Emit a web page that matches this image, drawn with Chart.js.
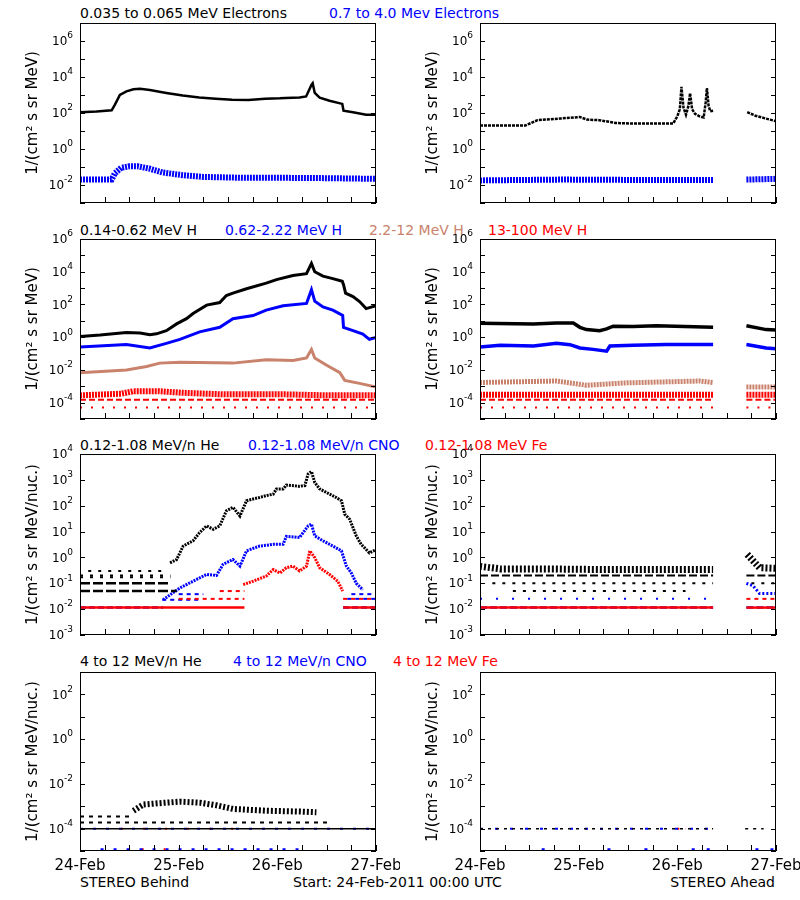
<!DOCTYPE html>
<html>
<head>
<meta charset="utf-8">
<script src="https://cdn.jsdelivr.net/npm/chart.js@4"></script>
<style>
  body { margin: 0; background: #fff; width: 800px; height: 900px; position: relative; overflow: hidden; font-family: "DejaVu Sans", sans-serif; }
  canvas { position: absolute; }
  .t { position: absolute; font-size: 14px; line-height: 14px; white-space: nowrap; }
</style>
</head>
<body>

<!-- panel titles -->
<div class="t" style="left:80px;top:6px;color:#000">0.035 to 0.065 MeV Electrons</div>
<div class="t" style="left:329px;top:6px;color:#0000ff">0.7 to 4.0 Mev Electrons</div>

<div class="t" style="left:80px;top:223px;color:#000">0.14-0.62 MeV H</div>
<div class="t" style="left:225px;top:223px;color:#0000ff">0.62-2.22 MeV H</div>
<div class="t" style="left:369px;top:223px;color:#c9826b">2.2-12 MeV H</div>
<div class="t" style="left:488px;top:223px;color:#ff0000">13-100 MeV H</div>

<div class="t" style="left:80px;top:438px;color:#000">0.12-1.08 MeV/n He</div>
<div class="t" style="left:248px;top:438px;color:#0000ff">0.12-1.08 MeV/n CNO</div>
<div class="t" style="left:425px;top:438px;color:#ff0000">0.12-1.08 MeV Fe</div>

<div class="t" style="left:80px;top:654px;color:#000">4 to 12 MeV/n He</div>
<div class="t" style="left:233px;top:654px;color:#0000ff">4 to 12 MeV/n CNO</div>
<div class="t" style="left:393px;top:654px;color:#ff0000">4 to 12 MeV Fe</div>

<!-- footer -->
<div class="t" style="left:80px;top:875px">STEREO Behind</div>
<div class="t" style="left:293px;top:875px">Start: 24-Feb-2011 00:00 UTC</div>
<div class="t" style="right:25px;top:875px">STEREO Ahead</div>

<script>
// ---- data (hours since 24-Feb-2011 00:00 UTC, fluxes) ----

// electrons
const eLoBehindHours = [0, 4, 7.7, 8.5, 9.7, 11.3, 13, 14.6, 17, 21, 25, 29, 33, 37, 41, 45, 48.6, 50, 53.4, 55, 56.3, 56.6, 57.1, 58.3, 60.7, 63.8, 64.1, 66.4, 69.6, 72];
const eLoBehind = [110, 120, 140, 290, 1000, 1600, 2100, 2200, 1900, 1300, 930, 720, 620, 540, 520, 620, 650, 690, 720, 830, 3600, 4500, 1300, 720, 480, 320, 135, 110, 80, 80];
const eHiBehindHours = [0, 7.7, 8.5, 10, 12, 14, 17, 20, 25, 30, 40, 50, 60, 72];
const eHiBehind = [0.02, 0.02, 0.045, 0.09, 0.11, 0.11, 0.08, 0.05, 0.035, 0.028, 0.025, 0.025, 0.024, 0.022];

const eLoAheadHours = [0, 11, 14, 19.4, 24.3, 26, 29, 33, 37, 47, 48, 48.6, 49, 49.5, 50.1, 50.7, 51.1, 51.6, 52.3, 53.5, 54.4, 54.9, 55.2, 55.6, 56, 56.7, 60, 65, 67, 72];
const eLoAhead = [20, 20, 40, 49, 60, 43, 40, 28, 26, 26, 66, 160, 2800, 200, 80, 250, 1260, 160, 90, 63, 56, 400, 2450, 250, 126, 135, null, 112, 70, 35];
const eHiAheadHours = [0, 20, 40, 56.7, 60, 64.8, 72];
const eHiAhead = [0.018, 0.02, 0.019, 0.019, null, 0.02, 0.022];

// protons
const hLoBehindHours = [0, 4.9, 11.3, 14.6, 17, 18.6, 21, 23.5, 25.9, 27.5, 30.8, 34, 35.6, 37.2, 40.5, 45.3, 47.8, 51.8, 55.1, 56.3, 57.1, 59.1, 61.5, 63.8, 64.1, 64.6, 66.4, 68, 69.6, 72];
const hLoBehind = [1.1, 1.35, 1.95, 1.8, 1.4, 1.6, 2.5, 6.5, 13.5, 28, 91, 130, 350, 490, 910, 2000, 3300, 5900, 7600, 32000, 10000, 5400, 3800, 2600, 1600, 490, 300, 150, 56, 83];
const hMidBehindHours = [0, 11.3, 17, 21, 24.3, 29.1, 34, 37.2, 42.1, 45.3, 49.4, 55.1, 56.3, 57.1, 59.1, 61.5, 63.9, 64.1, 66.4, 68.8, 70.4, 72];
const hMidBehind = [0.25, 0.36, 0.22, 0.42, 0.74, 2.1, 4, 13.5, 21, 45, 83, 115, 800, 160, 71, 45, 21, 4, 2.5, 1.55, 0.74, 0.95];
const hHiBehindHours = [0, 11.3, 16.2, 19.4, 24.3, 37.2, 45.3, 51.8, 55.1, 56.3, 57.1, 59.9, 63.2, 64.4, 68, 72];
const hHiBehind = [0.0068, 0.01, 0.016, 0.026, 0.029, 0.026, 0.042, 0.038, 0.054, 0.18, 0.054, 0.02, 0.0068, 0.0023, 0.0015, 0.0009];
const hTopBehindHours = [0, 10, 13, 19, 25, 35, 50, 60, 72];
const hTopBehind = [2.8e-4, 3.5e-4, 5e-4, 5e-4, 4e-4, 3.2e-4, 3.2e-4, 2.8e-4, 2.8e-4];
const hTopFloorsBehind = [[1.5e-4, 0, 72]];
const hTopSparseBehind = [[5e-5, 0, 72]];

const hLoAheadHours = [0, 13, 18.6, 22.7, 24.3, 25.9, 29.1, 30.8, 32.4, 37.2, 42.9, 56.7, 60, 64.8, 69.6, 72];
const hLoAhead = [7.1, 6.3, 7.4, 7.4, 4, 2.9, 2.5, 3.2, 4.7, 4.5, 5, 4, null, 5, 2.9, 2.75];
const hMidAheadHours = [0, 4.9, 13, 18.6, 21.9, 24.3, 27.5, 30.8, 31.6, 37.2, 45.3, 56.7, 60, 64.8, 69.6, 72];
const hMidAhead = [0.25, 0.32, 0.29, 0.42, 0.35, 0.22, 0.18, 0.14, 0.29, 0.32, 0.36, 0.36, null, 0.36, 0.22, 0.195];
const hHiAheadHours = [0, 18.6, 25.9, 35, 53.4, 56.7, 60, 64.8, 72];
const hHiAhead = [1.7e-3, 2.1e-3, 1.15e-3, 1.6e-3, 2.1e-3, 1.7e-3, null, 9e-4, 9e-4];
const hTopAheadHours = [0, 56.7, 60, 64.8, 72];
const hTopAhead = [3e-4, 3e-4, null, 3e-4, 3e-4];
const hTopFloorsAhead = [[1.5e-4, 0, 56.7], [1.5e-4, 64.8, 72]];
const hTopSparseAhead = [[5e-5, 0, 56.7], [5e-5, 64.8, 72]];

// 0.12-1.08 MeV/n heavy ions
const heLoBehindHours = [21.9, 23.5, 25.1, 27.5, 29.1, 30.8, 32.4, 34, 35.6, 37.2, 38.9, 40.5, 42.1, 43.7, 45.3, 47, 47.8, 49.4, 50.2, 53.4, 54.7, 55.5, 56.3, 57.1, 58.3, 60.7, 62.3, 63.6, 64.4, 65.6, 67.2, 68.4, 70.4, 72];
const heLoBehind = [0.62, 0.83, 2.75, 4.4, 9.1, 16.6, 12.3, 16.6, 63, 87, 40, 155, 182, 209, 245, 282, 447, 447, 631, 562, 603, 1700, 2100, 794, 447, 282, 209, 155, 47, 30, 6.8, 3.2, 1.5, 2.0];
const heLoFloorsBehind = [[0.05, 0, 23.5], [0.1, 0, 21.5]];
const heLoSparseBehind = [[0.17, 0, 22], [0.2, 0, 22], [0.3, 2, 21]];
const cnoLoBehindHours = [20.2, 24.3, 27.5, 30.8, 33.2, 34.8, 37.2, 38.9, 40.5, 43.7, 47, 49.4, 50.2, 53.4, 55.5, 56.3, 57.1, 59.1, 61.5, 63.6, 64.8, 66, 67.2, 68.8];
const cnoLoBehind = [0.023, 0.066, 0.12, 0.22, 0.2, 0.54, 0.83, 0.46, 1.8, 2.75, 3.2, 3.2, 6.5, 5.9, 16.6, 19.5, 6.8, 4.4, 2.75, 1.8, 0.46, 0.25, 0.1, 0.056];
const cnoLoFloorsBehind = [[0.0115, 0, 20.2], [0.0115, 64, 72]];
const cnoLoSparseBehind = [[0.023, 20, 29], [0.038, 24, 30], [0.025, 65, 72], [0.038, 66, 72]];
const feLoBehindHours = [39.7, 42.1, 45.3, 47, 48.6, 50.2, 51.8, 53.4, 55.1, 55.9, 57.1, 58.3, 60.7, 62.7, 63.9];
const feLoBehind = [0.089, 0.12, 0.19, 0.34, 0.25, 0.4, 0.46, 0.3, 0.46, 1.8, 0.98, 0.4, 0.22, 0.12, 0.05];
const feLoFloorsBehind = [[0.0115, 0, 40], [0.0115, 64, 72]];
const feLoSparseBehind = [[0.025, 24, 40], [0.05, 34, 40], [0.025, 64, 72]];

const heLoAheadHours = [0, 5, 15, 30, 45, 52, 56.7, 60, 65, 66.5, 68, 72];
const heLoAhead = [0.45, 0.36, 0.36, 0.34, 0.34, 0.34, 0.34, null, 1.3, 0.72, 0.4, 0.38];
const heLoFloorsAhead = [[0.2, 0, 56.7], [0.2, 64.8, 72]];
const heLoSparseAhead = [[0.1, 3, 56.7], [0.05, 8, 50], [0.1, 66, 72]];
const cnoLoAheadHours = [64.8, 66.4, 68, 72];
const cnoLoAhead = [0.1, 0.08, 0.04, 0.04];
const cnoLoFloorsAhead = [[0.0115, 0, 56.7], [0.0115, 64.8, 72]];
const cnoLoSparseAhead = [[0.025, 0, 56.7]];
const feLoFloorsAhead = [[0.0115, 0, 56.7], [0.0115, 64.8, 72]];
const feLoSparseAhead = [[0.025, 64.8, 72]];

// 4-12 MeV/n heavy ions
const heHiBehindHours = [13, 15.4, 21, 24.3, 29.1, 33.2, 37.2, 45.3, 53.4, 57.5];
const heHiBehind = [6.3e-4, 1.2e-3, 1.45e-3, 1.6e-3, 1.45e-3, 1.1e-3, 7.6e-4, 6.3e-4, 5.8e-4, 5.4e-4];
const heHiFloorsBehind = [[1e-4, 0, 72]];
const heHiSparseBehind = [[1.9e-4, 0, 61], [3.5e-4, 0, 13]];
const cnoHiSparseBehind = [[1e-4, 0, 72], [1.2e-5, 5, 55]];
const feHiSparseBehind = [[1e-4, 10, 40], [1.2e-5, 15, 21]];

const heHiSparseAhead = [[1e-4, 0, 56.7], [1e-4, 64.5, 69]];
const cnoHiSparseAhead = [[1e-4, 0, 56.7], [1.2e-5, 15, 16], [1.2e-5, 31, 32], [1.2e-5, 40, 41], [1.2e-5, 51.5, 56.5], [1.2e-5, 67, 72]];
const feHiSparseAhead = [[1e-4, 48, 50]];

// axes
const dayHours = [0, 24, 48, 72];
const dayLabels = ['24-Feb', '25-Feb', '26-Feb', '27-Feb'];
const fluxUnit = '1/(cm\u00b2 s sr MeV)';
const nucUnit = '1/(cm\u00b2 s sr MeV/nuc.)';

const BLACK = '#000000', BLUE = '#0000ff', BROWN = '#c9826b', RED = '#ff0000';

function trace(hours, values, color, width, dash) {
    return {
        data: hours.map((h, i) => ({ x: h, y: values[i] })),
        borderColor: color,
        backgroundColor: color,
        borderWidth: width,
        borderDash: dash || [],
        pointRadius: 0,
        tension: 0,
        fill: false,
        spanGaps: false
    };
}

function levels(list, color, width, dash) {
    return list.map(([v, from, to]) => trace([from, to], [v, v], color, width, dash));
}

// box, inward ticks, 10^n labels, y title, date labels
const frame = {
    id: 'frame',
    afterDraw(chart, args, opts) {
        const { ctx, chartArea: a } = chart;
        const x = chart.scales.x, y = chart.scales.y;
        ctx.save();
        ctx.strokeStyle = '#000';
        ctx.fillStyle = '#000';
        ctx.lineWidth = 1;
        ctx.strokeRect(a.left + 0.5, a.top + 0.5, a.right - a.left - 1, a.bottom - a.top - 1);

        ctx.beginPath();
        for (let h = 0; h <= 72; h += 6) {
            const px = Math.round(x.getPixelForValue(h)) + 0.5;
            ctx.moveTo(px, a.bottom);
            ctx.lineTo(px, a.bottom - 6);
        }
        for (let e = opts.lo; e <= opts.hi; e++) {
            const py = Math.round(y.getPixelForValue(Math.pow(10, e))) + 0.5;
            ctx.moveTo(a.left, py);
            ctx.lineTo(a.left + 5, py);
            ctx.moveTo(a.right, py);
            ctx.lineTo(a.right - 5, py);
        }
        ctx.stroke();

        ctx.textAlign = 'right';
        ctx.textBaseline = 'middle';
        opts.labels.forEach(e => {
            const py = y.getPixelForValue(Math.pow(10, e));
            const xr = a.left - 7;
            ctx.font = '9px "DejaVu Sans"';
            const ew = ctx.measureText(String(e)).width;
            ctx.fillText(String(e), xr, py - 5);
            ctx.font = '12px "DejaVu Sans"';
            ctx.fillText('10', xr - ew, py + 1);
        });

        ctx.save();
        ctx.translate(33, (a.top + a.bottom) / 2);
        ctx.rotate(-Math.PI / 2);
        ctx.textAlign = 'center';
        ctx.font = '15px "DejaVu Sans"';
        ctx.fillText(opts.title, 0, 0);
        ctx.restore();

        if (opts.dates) {
            ctx.textAlign = 'center';
            ctx.font = '15px "DejaVu Sans"';
            dayHours.forEach((h, i) => {
                ctx.fillText(dayLabels[i], x.getPixelForValue(h), a.bottom + 15);
            });
        }
        ctx.restore();
    }
};

const rowTop = [0, 215, 430, 645];
const rowHeight = [215, 215, 215, 255];
const padTop = [23, 24, 24, 27];
const padBottom = [12, 11, 10, 49];

const panels = [
    { row: 0, col: 0, min: 1e-3, max: 1e7, labels: [6, 4, 2, 0, -2], title: fluxUnit, datasets: [
        trace(eHiBehindHours, eHiBehind, BLUE, 6, [2, 1]),
        trace(eLoBehindHours, eLoBehind, BLACK, 2.5)
    ]},
    { row: 0, col: 1, min: 1e-3, max: 1e7, labels: [6, 4, 2, 0, -2], title: fluxUnit, datasets: [
        trace(eHiAheadHours, eHiAhead, BLUE, 6, [2, 1]),
        trace(eLoAheadHours, eLoAhead, BLACK, 2.5, [3, 1])
    ]},
    { row: 1, col: 0, min: 1e-5, max: 1e6, labels: [6, 4, 2, 0, -2, -4], title: fluxUnit, datasets: [
        ...levels(hTopSparseBehind, RED, 2, [2, 9]),
        ...levels(hTopFloorsBehind, RED, 2, [6, 3]),
        trace(hTopBehindHours, hTopBehind, RED, 6, [2, 1]),
        trace(hHiBehindHours, hHiBehind, BROWN, 3),
        trace(hMidBehindHours, hMidBehind, BLUE, 3),
        trace(hLoBehindHours, hLoBehind, BLACK, 3)
    ]},
    { row: 1, col: 1, min: 1e-5, max: 1e6, labels: [6, 4, 2, 0, -2, -4], title: fluxUnit, datasets: [
        ...levels(hTopSparseAhead, RED, 2, [2, 9]),
        ...levels(hTopFloorsAhead, RED, 2, [6, 3]),
        trace(hTopAheadHours, hTopAhead, RED, 6, [2, 1]),
        trace(hHiAheadHours, hHiAhead, BROWN, 5, [2, 1]),
        trace(hMidAheadHours, hMidAhead, BLUE, 3.5),
        trace(hLoAheadHours, hLoAhead, BLACK, 3.5)
    ]},
    { row: 2, col: 0, min: 1e-3, max: 1e4, labels: [4, 3, 2, 1, 0, -1, -2, -3], title: nucUnit, datasets: [
        ...levels(feLoFloorsBehind, RED, 2.5),
        ...levels(feLoSparseBehind, RED, 2, [4, 4]),
        ...levels(cnoLoFloorsBehind, BLUE, 2.5, [6, 3]),
        ...levels(cnoLoSparseBehind, BLUE, 2, [4, 4]),
        ...levels(heLoFloorsBehind, BLACK, 2.5, [10, 3]),
        ...levels(heLoSparseBehind, BLACK, 2, [3, 7]),
        trace(feLoBehindHours, feLoBehind, RED, 3, [2, 1]),
        trace(cnoLoBehindHours, cnoLoBehind, BLUE, 3, [2, 1]),
        trace(heLoBehindHours, heLoBehind, BLACK, 3, [2, 1])
    ]},
    { row: 2, col: 1, min: 1e-3, max: 1e4, labels: [4, 3, 2, 1, 0, -1, -2, -3], title: nucUnit, datasets: [
        ...levels(feLoFloorsAhead, RED, 2.5),
        ...levels(feLoSparseAhead, RED, 2, [4, 4]),
        ...levels(cnoLoFloorsAhead, BLUE, 2.5, [7, 3]),
        ...levels(cnoLoSparseAhead, BLUE, 2, [2, 14]),
        trace(cnoLoAheadHours, cnoLoAhead, BLUE, 3, [2, 2]),
        ...levels(heLoFloorsAhead, BLACK, 2, [8, 3]),
        ...levels(heLoSparseAhead, BLACK, 2, [3, 7]),
        trace(heLoAheadHours, heLoAhead, BLACK, 7, [2, 2])
    ]},
    { row: 3, col: 0, min: 1e-5, max: 1e3, labels: [2, 0, -2, -4], title: nucUnit, dates: true, datasets: [
        ...levels(heHiFloorsBehind, BLACK, 1.5),
        ...levels(cnoHiSparseBehind, BLUE, 2, [3, 10]),
        ...levels(feHiSparseBehind, RED, 2, [2, 20]),
        ...levels(heHiSparseBehind, BLACK, 2, [4, 5]),
        trace(heHiBehindHours, heHiBehind, BLACK, 6, [2, 2])
    ]},
    { row: 3, col: 1, min: 1e-5, max: 1e3, labels: [2, 0, -2, -4], title: nucUnit, dates: true, datasets: [
        ...levels(heHiSparseAhead, BLACK, 1.5, [3, 5]),
        ...levels(cnoHiSparseAhead, BLUE, 2, [3, 12]),
        ...levels(feHiSparseAhead, RED, 2, [2, 6])
    ]}
];

panels.forEach(p => {
    const canvas = document.createElement('canvas');
    canvas.width = 400;
    canvas.height = rowHeight[p.row];
    canvas.style.left = (p.col * 400) + 'px';
    canvas.style.top = rowTop[p.row] + 'px';
    document.body.appendChild(canvas);

    new Chart(canvas.getContext('2d'), {
        type: 'line',
        data: { datasets: p.datasets },
        options: {
            responsive: false,
            animation: false,
            devicePixelRatio: 1,
            layout: { padding: { left: 80, right: 24, top: padTop[p.row], bottom: padBottom[p.row] } },
            scales: {
                x: { type: 'linear', min: 0, max: 72, display: false },
                y: { type: 'logarithmic', min: p.min, max: p.max, display: false }
            },
            plugins: {
                legend: { display: false },
                tooltip: { enabled: false },
                frame: { lo: Math.round(Math.log10(p.min)), hi: Math.round(Math.log10(p.max)), labels: p.labels, title: p.title, dates: !!p.dates }
            }
        },
        plugins: [frame]
    });
});
</script>
</body>
</html>
